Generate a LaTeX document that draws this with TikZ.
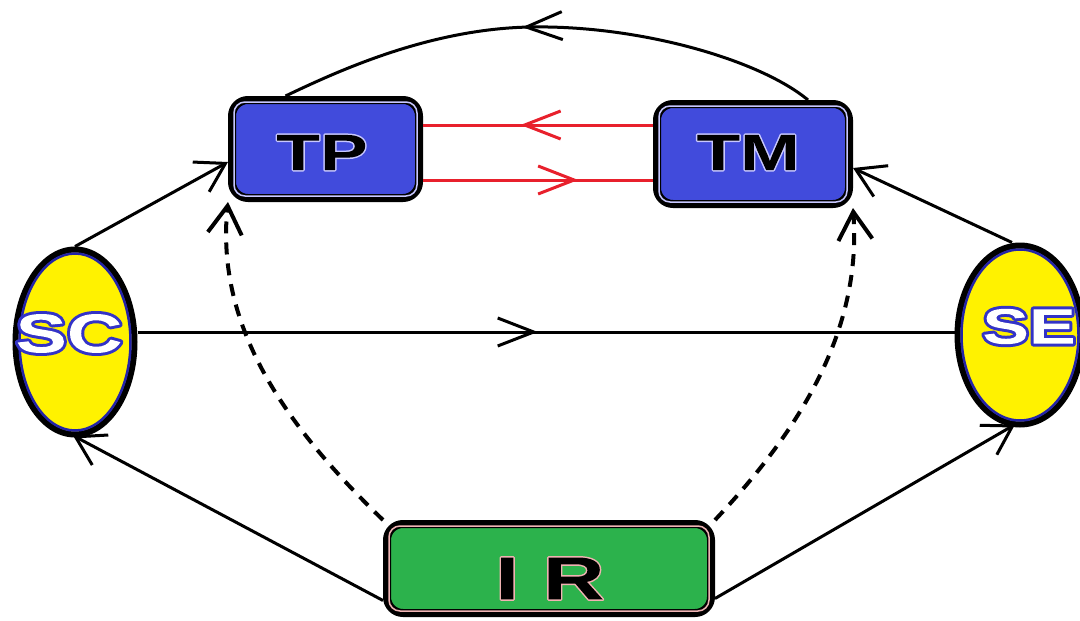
\documentclass[tikz,border=0pt]{standalone}
\usepackage{fontspec}
\usetikzlibrary{arrows.meta,decorations.markings,shapes.geometric}
\newfontfamily\heavy{Liberation Sans}[FakeStretch=1.4]
% #1 outline rgb, #2 stroke width, #3 fill rgb, #4 text
\newcommand{\outlined}[4]{{\special{pdf:literal 0 0 m}\special{pdf:literal direct q #1 RG #2 w 1 j 5 Tr}#4\special{pdf:literal #3 rg -5000 -5000 10000 10000 re f}\special{pdf:literal direct Q}}}
\definecolor{boxblue}{HTML}{414BDC}
\definecolor{ellyellow}{HTML}{FFF200}
\definecolor{irgreen}{HTML}{2CB24C}
\definecolor{ellblue}{HTML}{2424A8}
\definecolor{lightlav}{HTML}{C8C8FF}
\definecolor{pinkish}{HTML}{F0B4B4}
\definecolor{redline}{HTML}{E8202C}
\tikzset{
  x=1pt, y=-1pt,
  box/.style={draw=black, line width=8pt, rounded corners=16pt, inner sep=0pt},
  ell/.style={ellipse, draw=black, line width=6pt, fill=ellyellow, inner sep=0pt},
  txt/.style={inner sep=0pt},
  conn/.style={draw=black, line width=3pt},
  endarrow/.style={-{Straight Barb[length=28pt,width=34pt]}},
  dashconn/.style={draw=black, line width=4pt, dash pattern=on 12pt off 9pt},
  midarrow/.style={postaction={decorate}, decoration={markings,
     mark=at position #1 with {\arrow{Straight Barb[length=36pt,width=28pt]}}}},
}
\begin{document}
\begin{tikzpicture}
\useasboundingbox (0,0) rectangle (1080,621);
% nodes
\node[box, fill=boxblue, minimum width=187pt, minimum height=98pt] (TP) at (325.5,149) {};
\node[box, fill=boxblue, minimum width=192pt, minimum height=100pt] (TM) at (753,154) {};
\node[box, fill=irgreen, minimum width=324pt, minimum height=89pt] (IR) at (549,568.5) {};
\node[ell, minimum width=119pt, minimum height=185pt] (SC) at (75,342) {};
\node[ell, minimum width=125pt, minimum height=179pt] (SE) at (1020,335) {};
% inner light lines
\draw[lightlav, line width=1.5pt, rounded corners=11pt] ([shift={(6,6)}]TP.north west) rectangle ([shift={(-6,-6)}]TP.south east);
\draw[lightlav, line width=1.5pt, rounded corners=11pt] ([shift={(6,6)}]TM.north west) rectangle ([shift={(-6,-6)}]TM.south east);
\draw[pinkish, line width=1.5pt, rounded corners=11pt] ([shift={(6,6)}]IR.north west) rectangle ([shift={(-6,-6)}]IR.south east);
\draw[ellblue, line width=2.5pt] (SC.center) ellipse [x radius=55.5pt, y radius=88.5pt];
\draw[ellblue, line width=2.5pt] (SE.center) ellipse [x radius=58.5pt, y radius=85.5pt];
% texts
\node[txt] (tTP) at (322,152.5) {\fontsize{51}{51}\heavy\bfseries\color{black}\outlined{0.784 0.784 1}{3}{0 0 0}{TP}};
\node[txt] (tTM) at (748,152.5) {\fontsize{51}{51}\heavy\bfseries\color{black}\outlined{0.784 0.784 1}{3}{0 0 0}{TM}};
\node[txt] (tSC) at (69,333.5) {\fontsize{55}{55}\heavy\bfseries\color{white}\outlined{0.2 0.2 0.78}{6}{1 1 1}{SC}};
\node[txt] (tSE) at (1029,326.5) {\fontsize{50}{50}\heavy\bfseries\color{white}\outlined{0.2 0.2 0.78}{6}{1 1 1}{SE}};
\node[txt] (tIR) at (550,578.5) {\fontsize{61}{61}\heavy\bfseries\color{black}\outlined{0.94 0.7 0.7}{3}{0 0 0}{I R}};
% connectors
\draw[conn, midarrow=0.547] ([shift={(55,0)}]TM.north) .. controls (760,60) and (640,25) .. (530,27) .. controls (430,29) and (340,70) .. ([shift={(-40,0)}]TP.north);
\draw[conn, draw=redline, midarrow=0.576] ([shift={(0,-29)}]TM.west) -- ([shift={(0,-24)}]TP.east);
\draw[conn, draw=redline, midarrow=0.675] ([shift={(0,31)}]TP.east) -- ([shift={(0,26)}]TM.west);
\draw[conn, midarrow=0.49] ([shift={(0,-10)}]SC.east) -- ([shift={(0,-3)}]SE.west);
\draw[conn, endarrow] (SC.north) -- ([shift={(0,13)}]TP.west);
\draw[conn, endarrow] ([shift={(-8,0)}]SE.north) -- ([shift={(0,14)}]TM.east);
\draw[conn, endarrow] ([shift={(0,32)}]IR.west) -- ([shift={(-2,-2)}]SC.south);
\draw[conn, endarrow] ([shift={(0,30)}]IR.east) -- ([shift={(-5,-3)}]SE.south);
\draw[dashconn, endarrow] (IR.north west) .. controls (290,430) and (215,330) .. (TP.south west);
\draw[dashconn, endarrow] (IR.north east) .. controls (800,430) and (862,330) .. (TM.south east);
\end{tikzpicture}
\end{document}
